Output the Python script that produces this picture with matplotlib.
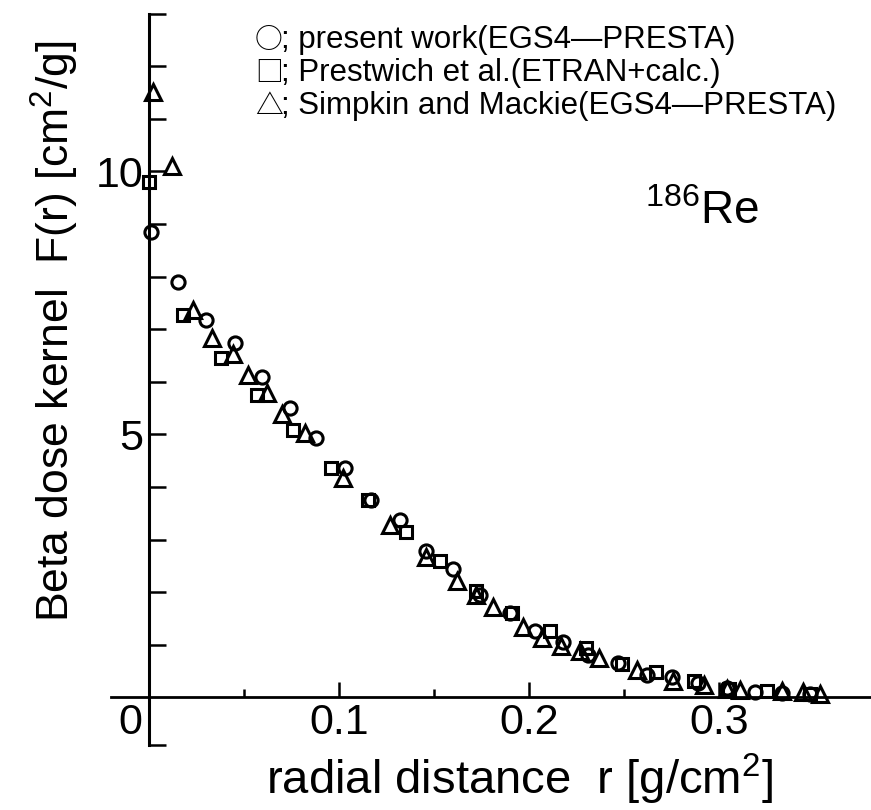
import numpy as np
import matplotlib
matplotlib.use("Agg")
import matplotlib.pyplot as plt
from matplotlib.ticker import FixedLocator, FixedFormatter

plt.rcParams['font.family'] = ['Liberation Sans', 'DejaVu Sans']
plt.rcParams['mathtext.fontset'] = 'custom'
plt.rcParams['mathtext.rm'] = 'Liberation Sans'

# present work (EGS4-PRESTA)
r_pres = [0.001, 0.015, 0.030, 0.045, 0.0595, 0.074, 0.088, 0.103, 0.117, 0.132,
          0.146, 0.160, 0.174, 0.190, 0.203, 0.218, 0.231, 0.247, 0.262, 0.275,
          0.289, 0.304, 0.319, 0.333, 0.348]
F_pres = [8.85, 7.90, 7.17, 6.73, 6.10, 5.51, 4.94, 4.37, 3.76, 3.37,
          2.79, 2.45, 1.94, 1.60, 1.27, 1.06, 0.80, 0.66, 0.42, 0.38,
          0.28, 0.17, 0.10, 0.08, 0.06]

# Prestwich et al. (ETRAN + calc.)
r_prest = [0.0, 0.018, 0.038, 0.057, 0.076, 0.096, 0.115, 0.135, 0.153, 0.172,
           0.191, 0.211, 0.230, 0.249, 0.267, 0.287, 0.305, 0.325, 0.348]
F_prest = [9.80, 7.26, 6.45, 5.74, 5.08, 4.37, 3.76, 3.14, 2.60, 2.03,
           1.60, 1.27, 0.93, 0.63, 0.48, 0.32, 0.16, 0.12, 0.07]

# Simpkin and Mackie (EGS4-PRESTA)
r_simp = [0.002, 0.012, 0.023, 0.033, 0.044, 0.052, 0.062, 0.070, 0.082, 0.102,
          0.127, 0.146, 0.162, 0.172, 0.181, 0.197, 0.207, 0.217, 0.227, 0.237,
          0.257, 0.276, 0.292, 0.304, 0.311, 0.333, 0.344, 0.353]
F_simp = [11.5, 10.1, 7.36, 6.84, 6.52, 6.12, 5.78, 5.38, 5.02, 4.18,
          3.27, 2.66, 2.22, 1.95, 1.71, 1.33, 1.12, 0.98, 0.89, 0.74,
          0.52, 0.32, 0.23, 0.16, 0.15, 0.12, 0.10, 0.07]

legend_symbols = ['\u25cb', '\u25a1', '\u25b3']
legend_labels = ['; present work(EGS4\u2014PRESTA)',
                 '; Prestwich et al.(ETRAN+calc.)',
                 '; Simpkin and Mackie(EGS4\u2014PRESTA)']

W, H = 871, 810
fig = plt.figure(figsize=(W / 100, H / 100), dpi=100)
# axes box in pixels: x -0.02..0.38, y -1.0..13.2
ax = fig.add_axes([111 / W, (H - 750) / H, 760 / W, 747 / H])
ax.set_xlim(-0.02, 0.38)
ax.set_ylim(-1.0, 13.2)

mk = dict(ls='none', mfc='none', mec='black', mew=2.2, clip_on=False)
ax.plot(r_pres, F_pres, marker='o', ms=9.5, **mk)
ax.plot(r_prest, F_prest, marker='s', ms=9, **mk)
ax.plot(r_simp, F_simp, marker='^', ms=11, **mk)

# axis lines crossing at the origin
for s in ['top', 'right']:
    ax.spines[s].set_visible(False)
ax.spines['left'].set_position(('data', 0))
ax.spines['bottom'].set_position(('data', 0))
ax.spines['left'].set_bounds(-0.9, 13)
ax.spines['bottom'].set_bounds(-0.02, 0.38)
ax.spines['left'].set_linewidth(2.2)
ax.spines['bottom'].set_linewidth(2.0)

yt = [-0.9] + list(range(1, 14))
ax.yaxis.set_major_locator(FixedLocator(yt))
ax.yaxis.set_major_formatter(FixedFormatter(['5' if v == 5 else '10' if v == 10 else '' for v in yt]))
ax.tick_params(axis='y', direction='in', length=12, width=1.8, pad=4, labelsize=31)

ax.xaxis.set_major_locator(FixedLocator([0.1, 0.2, 0.3]))
ax.xaxis.set_major_formatter(FixedFormatter(['0.1', '0.2', '0.3']))
ax.xaxis.set_minor_locator(FixedLocator([0.05, 0.15, 0.25]))
ax.tick_params(axis='x', which='major', direction='in', length=11, width=1.8, pad=4, labelsize=31)
ax.tick_params(axis='x', which='minor', direction='in', length=6, width=1.8)

ax.annotate('0', xy=(0, 0), xytext=(-5, -4), textcoords='offset points',
            ha='right', va='top', fontsize=31)

fig.text(520 / W, 1 - 779 / H, r'radial distance  r [g/cm$^2$]',
         ha='center', va='center', fontsize=34)
fig.text(55 / W, 1 - 331 / H, r'Beta dose kernel  F(r) [cm$^2$/g]',
         ha='center', va='center', rotation=90, fontsize=32)

for i, (sym, lab) in enumerate(zip(legend_symbols, legend_labels)):
    yy = 1 - (40 + 33 * i) / H
    fig.text(255 / W, yy, sym, ha='left', va='center', fontsize=20,
             family=['Noto Sans CJK JP', 'DejaVu Sans'])
    fig.text(281 / W, yy, lab, ha='left', va='center', fontsize=22.5)

fig.text(645 / W, 1 - 212 / H, r'$\mathregular{^{186}Re}$', ha='left', va='center', fontsize=33)

fig.savefig('out.png', dpi=100)
